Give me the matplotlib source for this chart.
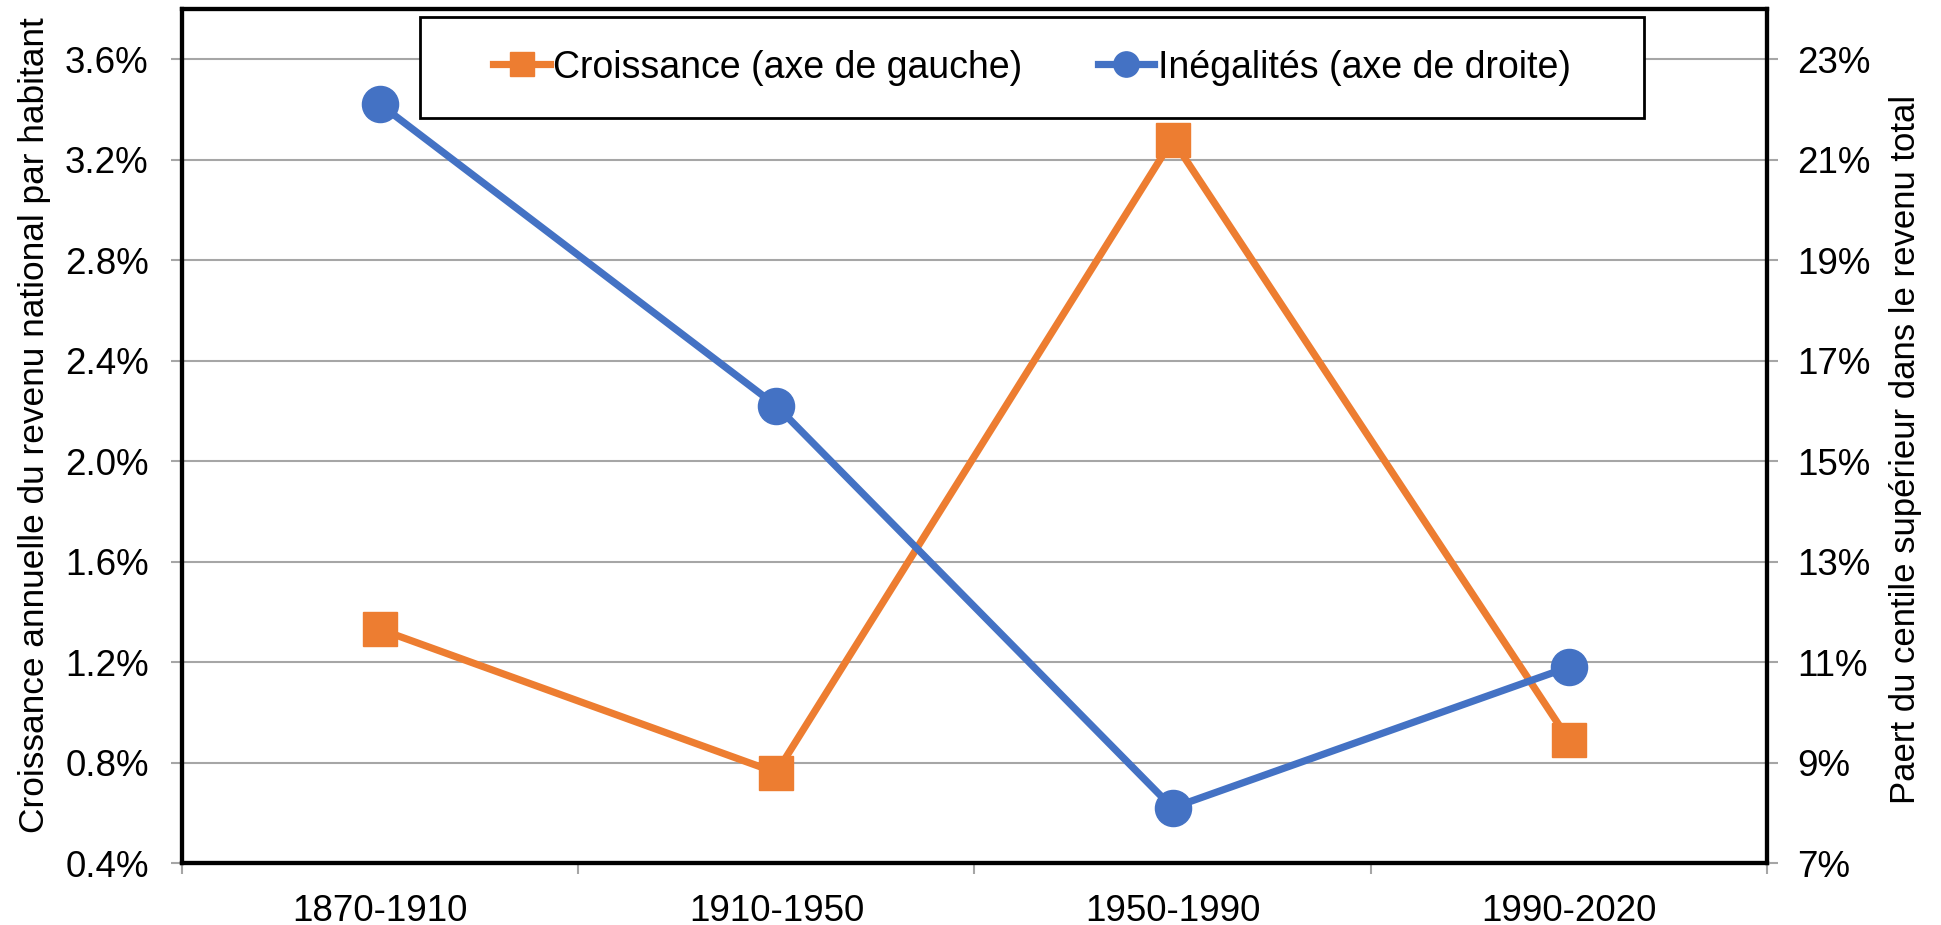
import matplotlib.pyplot as plt
from matplotlib.patches import Rectangle
from matplotlib.ticker import FixedLocator, FuncFormatter, NullFormatter

plt.rcParams['font.family'] = ['Liberation Sans', 'DejaVu Sans']

periodes = ['1870-1910', '1910-1950', '1950-1990', '1990-2020']
croissance = [1.33, 0.76, 3.28, 0.89]      # % par an, axe de gauche
inegalites = [22.1, 16.1, 8.1, 10.9]       # % du revenu total, axe de droite

orange = '#ED7D31'
bleu = '#4472C4'
gris = '#A6A6A6'

fig = plt.figure(figsize=(19.41, 9.25), dpi=100)
ax = fig.add_axes([0.0938, 0.067, 0.8165, 0.9233])
ax2 = ax.twinx()

x = [i + 0.5 for i in range(len(periodes))]
l1, = ax.plot(x, croissance, color=orange, lw=5.2, marker='s', ms=24,
              label='Croissance (axe de gauche)', zorder=3)
l2, = ax2.plot(x, inegalites, color=bleu, lw=5.2, marker='o', ms=26,
               label='Inégalités (axe de droite)', zorder=3)

ax.set_xlim(0, len(periodes))
ax.set_ylim(0.4, 3.8)
ax2.set_ylim(7, 24)

ax.yaxis.set_major_locator(FixedLocator([0.4 + 0.4 * i for i in range(9)]))
ax.yaxis.set_major_formatter(FuncFormatter(lambda v, p: f'{v:.1f}%'))
ax2.yaxis.set_major_locator(FixedLocator([7 + 2 * i for i in range(9)]))
ax2.yaxis.set_major_formatter(FuncFormatter(lambda v, p: f'{v:.0f}%'))

ax.xaxis.set_major_locator(FixedLocator(range(len(periodes) + 1)))
ax.xaxis.set_major_formatter(NullFormatter())
ax.xaxis.set_minor_locator(FixedLocator(x))
ax.set_xticklabels(periodes, minor=True)

ax.grid(axis='y', color=gris, lw=1.5)
ax.set_axisbelow(True)

for a in (ax, ax2):
    for s in a.spines.values():
        s.set_linewidth(3)
        s.set_color('black')
    a.tick_params(axis='both', which='major', length=8, width=1.5,
                  color=gris, labelsize=26.5)
ax.tick_params(axis='y', pad=16)
ax2.tick_params(axis='y', pad=14)
ax.tick_params(axis='x', which='minor', length=0, labelsize=26.5, pad=22)

ax.set_ylabel('Croissance annuelle du revenu national par habitant',
              fontsize=25.4)
ax.yaxis.set_label_coords(-0.083, 0.513)
ax2.set_ylabel('Paert du centile supérieur dans le revenu total',
               fontsize=25)
ax2.yaxis.set_label_coords(1.077, 0.484)

# cadre de la légende
box = Rectangle((0.2164, 0.8724), 0.6306, 0.109, transform=fig.transFigure,
                facecolor='white', edgecolor='black', lw=2, zorder=5)
fig.add_artist(box)
leg = fig.legend(handles=[l1, l2], loc='center', ncol=2, frameon=False,
                 bbox_to_anchor=(0.2164 + 0.6306 / 2, 0.8724 + 0.109 / 2),
                 fontsize=27, handlelength=1.5, handletextpad=0.1,
                 columnspacing=2.0, markerscale=0.7)
leg.set_zorder(6)

fig.savefig('out.png', dpi=100)
